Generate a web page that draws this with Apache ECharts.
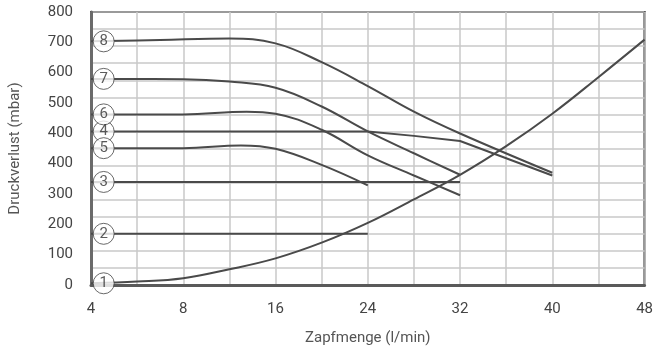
<!DOCTYPE html>
<html lang="de">

<head>
    <meta charset="UTF-8">
    <title>Druckverlust</title>
    <style type="text/css">
        html,
        body {
            margin: 0;
            padding: 0;
            background: #fff;
        }

        #chart {
            width: 656px;
            height: 351px;
        }
    </style>
</head>

<body>
    <div id="chart"></div>
    <script src="https://cdn.jsdelivr.net/npm/echarts@6/dist/echarts.min.js"></script>
    <script type="text/javascript">
        // Achsenbeschriftung
        var xTickLabels = ['4', '8', '16', '24', '32', '40', '48'];
        var yTickLabels = ['0', '100', '200', '300', '400', '400', '500', '600', '700', '800'];

        // Kurven: [Zapfmenge, Druckverlust]
        var curveNames = ['1', '2', '3', '4', '5', '6', '7', '8'];
        var curve1 = [[0, 5], [4, 10], [8, 20], [12, 46], [16, 78], [20, 124], [24, 182], [28, 251], [32, 323], [36, 407], [40, 502], [44, 609], [48, 719]];
        var curve2 = [[0, 150], [24, 150]];
        var curve3 = [[0, 302], [32, 302]];
        var curve4 = [[0, 450], [24, 450], [28, 437], [32, 422], [40, 321]];
        var curve5 = [[0, 401], [8, 401], [13, 409], [16, 399], [20, 352], [24, 292]];
        var curve6 = [[0, 500], [8, 500], [13.5, 508], [16, 502], [20, 455], [24, 380], [28, 321], [32, 263]];
        var curve7 = [[0, 604], [8, 603], [12, 596], [16, 578], [20, 523], [24, 450], [28, 386], [32, 323]];
        var curve8 = [[0, 714], [6, 718], [12, 722], [16, 708], [20, 653], [24, 583], [28, 508], [32, 444], [40, 329]];
        var curves = [curve1, curve2, curve3, curve4, curve5, curve6, curve7, curve8];
        var smoothCurve = [0.4, false, false, false, 0.4, 0.4, 0.4, 0.4];

        var lineColor = '#4a4a4a';
        var font = 'Roboto';

        var series = [];
        for (var i = 0; i < curves.length; i++) {
            series.push({
                name: curveNames[i],
                type: 'line',
                data: curves[i],
                smooth: smoothCurve[i],
                showSymbol: false,
                silent: true,
                lineStyle: { color: lineColor, width: 2 },
                z: 3
            });
        }

        // nummerierte Kreise am Kurvenanfang
        var markers = [];
        for (var j = 0; j < curves.length; j++) {
            markers.push({ value: [1.1, curves[j][0][1]], name: curveNames[j] });
        }
        series.push({
            type: 'scatter',
            data: markers,
            symbol: 'circle',
            symbolSize: 21,
            silent: true,
            itemStyle: { color: '#fff', borderColor: '#444', borderWidth: 1 },
            label: {
                show: true,
                position: 'inside',
                formatter: '{b}',
                color: '#333',
                fontFamily: font,
                fontSize: 15
            },
            z: 5
        });

        var myChart = echarts.init(document.getElementById('chart'));
        var option = {
            animation: false,
            grid: {
                left: 88,
                right: 9,
                top: 12,
                bottom: 62,
                show: true,
                borderColor: '#111',
                borderWidth: 2
            },
            xAxis: {
                type: 'value',
                min: 0,
                max: 48,
                interval: 4,
                name: 'Zapfmenge (l/min)',
                nameLocation: 'middle',
                nameGap: 46,
                nameTextStyle: { color: '#555', fontFamily: font, fontSize: 15 },
                axisLine: { show: true, lineStyle: { color: '#5a5a5a', width: 3 } },
                axisTick: { show: false },
                axisLabel: {
                    color: '#444',
                    fontFamily: font,
                    fontSize: 15,
                    margin: 17,
                    formatter: function (v) {
                        return v % 8 === 0 ? xTickLabels[v / 8] : '';
                    }
                },
                splitLine: { show: true, lineStyle: { color: '#c8c8c8', width: 1.5 } }
            },
            yAxis: [
                {
                    type: 'value',
                    min: 0,
                    max: 800,
                    interval: 50,
                    axisLine: { show: true, lineStyle: { color: '#6a6a6a', width: 3 } },
                    axisTick: { show: false },
                    axisLabel: { show: false },
                    splitLine: { show: true, lineStyle: { color: '#c8c8c8', width: 1.5 } }
                },
                {
                    type: 'value',
                    position: 'left',
                    min: 0,
                    max: 9,
                    interval: 1,
                    name: 'Druckverlust (mbar)',
                    nameLocation: 'middle',
                    nameGap: 68,
                    nameTextStyle: { color: '#555', fontFamily: font, fontSize: 15 },
                    axisLine: { show: false },
                    axisTick: { show: false },
                    splitLine: { show: false },
                    axisLabel: {
                        color: '#444',
                        fontFamily: font,
                        fontSize: 15,
                        margin: 18,
                        formatter: function (v) {
                            return yTickLabels[v];
                        }
                    }
                }
            ],
            series: series
        };
        myChart.setOption(option);
        window.onresize = function () {
            myChart.resize();
        };
    </script>
</body>

</html>
